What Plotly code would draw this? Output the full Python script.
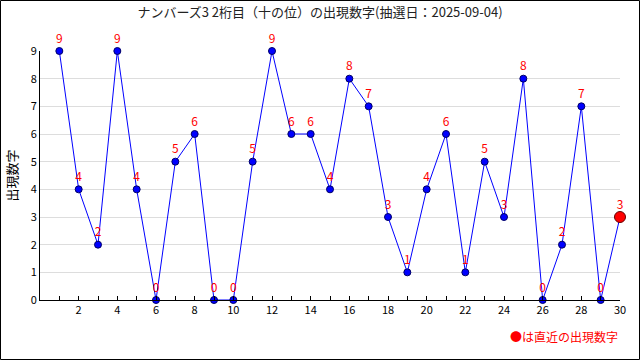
import plotly.graph_objects as go

draws = list(range(1, 31))
digits = [9, 4, 2, 9, 4, 0, 5, 6, 0, 0, 5, 9, 6, 6, 4, 8, 7, 3, 1, 4, 6, 1, 5, 3, 8, 0, 2, 7, 0, 3]
title_text = "ナンバーズ3 2桁目（十の位）の出現数字(抽選日：2025-09-04)"
y_title = "出現数字"
note_text = "●は直近の出現数字"

FONT = "Noto Sans CJK JP, DejaVu Sans, sans-serif"
L, R, T, B = 40, 20, 51, 60
PW, PH = 640 - L - R, 360 - T - B

fig = go.Figure()
fig.add_trace(go.Scatter(
    x=draws, y=digits, mode="lines+markers+text",
    line=dict(color="#0000ff", width=1),
    marker=dict(color="#0000ff", size=7, line=dict(color="#000066", width=1)),
    text=[str(v) for v in digits], textposition="top center",
    textfont=dict(color="#ff0000", size=12, family=FONT),
    cliponaxis=False, showlegend=False, hoverinfo="skip",
))
fig.add_trace(go.Scatter(
    x=[draws[-1]], y=[digits[-1]], mode="markers",
    marker=dict(color="#ff0000", size=11, line=dict(color="#660000", width=1)),
    cliponaxis=False, showlegend=False, hoverinfo="skip",
))

fig.update_layout(
    width=640, height=360,
    margin=dict(l=L, r=R, t=T, b=B, autoexpand=False),
    paper_bgcolor="white", plot_bgcolor="white",
    font=dict(family=FONT, size=11, color="#000"),
    title=dict(text=title_text, x=0.5, xanchor="center", y=1 - 12 / 360, yanchor="middle",
               font=dict(size=13, color="#222", family=FONT)),
    xaxis=dict(range=[0, 30], tickmode="array", tickvals=list(range(2, 31, 2)),
               ticks="inside", ticklen=4, tickcolor="#000",
               minor=dict(tickmode="array", tickvals=list(range(1, 31)), ticks="inside",
                          ticklen=4, tickcolor="#000"),
               showline=True, linecolor="#000", linewidth=1,
               showgrid=False, zeroline=False, tickfont=dict(size=11), automargin=False),
    yaxis=dict(range=[0, 9], tickmode="array", tickvals=list(range(0, 10)),
               showline=True, linecolor="#000", linewidth=1,
               showgrid=True, gridcolor="#dddddd", zeroline=False,
               ticks="", tickfont=dict(size=11), automargin=False,
               title=dict(text=y_title, font=dict(size=13), standoff=10)),
    shapes=[dict(type="rect", xref="paper", yref="paper", x0=-(L - 0.5) / PW, x1=1 + (R - 0.5) / PW,
                 y0=-(B - 0.5) / PH, y1=1 + (T - 0.5) / PH, line=dict(color="#000", width=1))],
    annotations=[dict(text=note_text, xref="paper", yref="paper", x=1, y=-36 / PH,
                      xanchor="right", yanchor="middle", showarrow=False,
                      font=dict(color="#ff0000", size=12, family=FONT))],
)
fig.write_html("out.html", config={"displayModeBar": False},
               post_script="document.body.style.margin='0';document.body.style.overflow='hidden';")
